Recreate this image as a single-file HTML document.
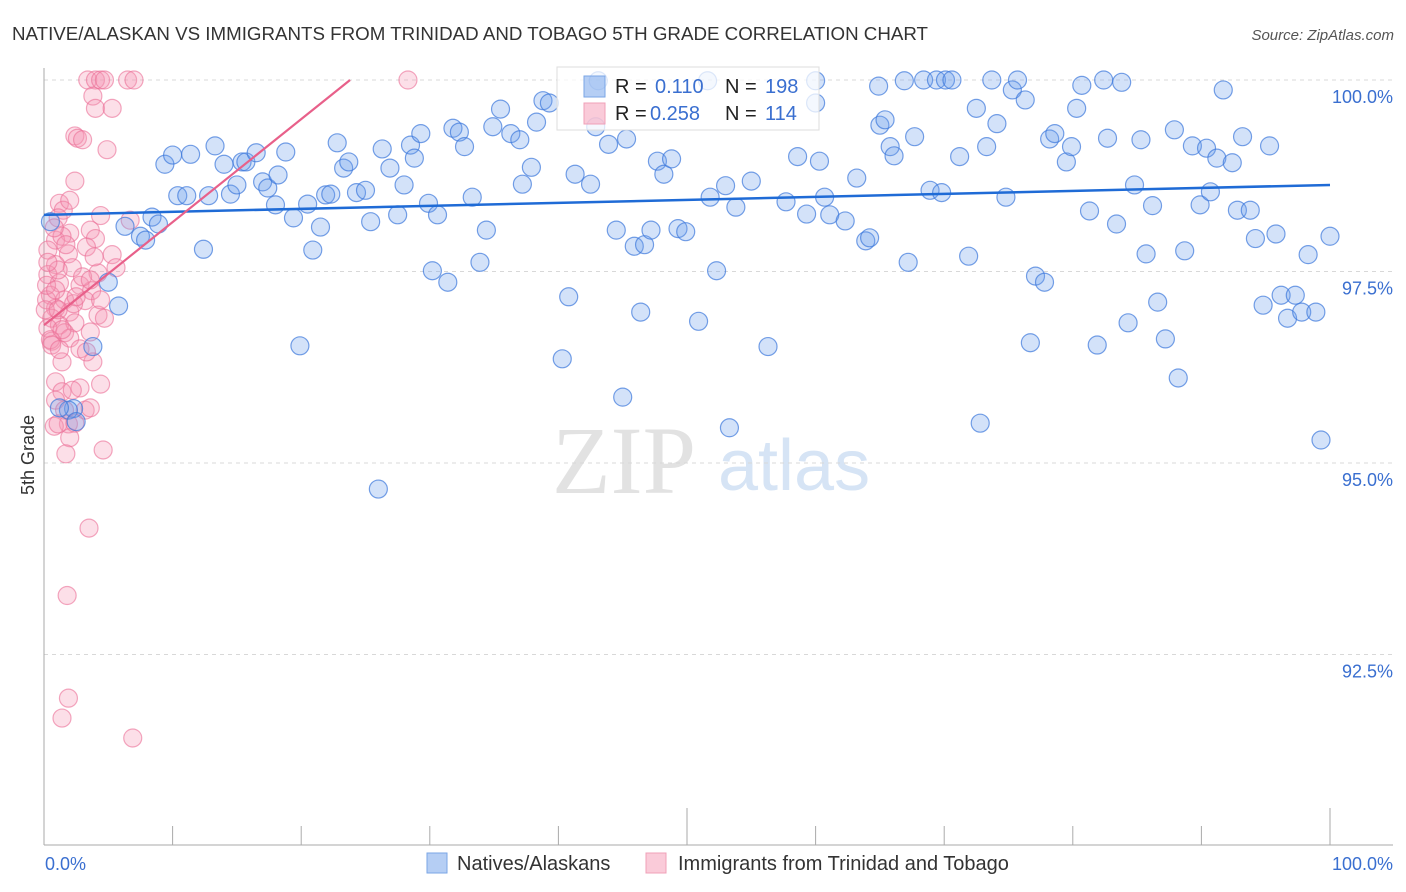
<!DOCTYPE html>
<html><head><meta charset="utf-8">
<style>
body{margin:0;background:#fff;font-family:"Liberation Sans",sans-serif;}
svg{display:block}
</style></head>
<body>
<svg id="chart" width="1406" height="892" viewBox="0 0 1406 892">
<text x="12" y="40" font-size="18" fill="#333" textLength="916" lengthAdjust="spacingAndGlyphs">NATIVE/ALASKAN VS IMMIGRANTS FROM TRINIDAD AND TOBAGO 5TH GRADE CORRELATION CHART</text>
<text x="1394" y="40" font-size="15" fill="#555" font-style="italic" text-anchor="end">Source: ZipAtlas.com</text>
<g>
<text x="552" y="493" font-size="96" font-family="Liberation Serif,serif" fill="#e2e2e2">ZIP</text>
<text x="718" y="490" font-size="72" fill="#d6e4f5">atlas</text>
</g>
<g id="grid"></g>
<g id="axes"></g>
<g id="pinkPts"></g>
<g id="bluePts"></g>
<g id="trends"></g>
<g>
<rect x="557" y="67" width="262" height="63" fill="rgba(255,255,255,0.75)" stroke="#ddd"/>
<rect x="584" y="76" width="21" height="21" fill="rgba(120,165,235,0.55)" stroke="#7aa6e6"/>
<rect x="584" y="103" width="21" height="21" fill="rgba(245,160,185,0.55)" stroke="#f0a0b8"/>
<text x="615" y="93" font-size="20" fill="#222">R =</text>
<text x="655" y="93" font-size="20" fill="#3a6fd0">0.110</text>
<text x="725" y="93" font-size="20" fill="#222">N =</text>
<text x="765" y="93" font-size="20" fill="#3a6fd0">198</text>
<text x="615" y="120" font-size="20" fill="#222">R =</text>
<text x="650" y="120" font-size="20" fill="#3a6fd0">0.258</text>
<text x="725" y="120" font-size="20" fill="#222">N =</text>
<text x="765" y="120" font-size="20" fill="#3a6fd0">114</text>
</g>
<g>
<rect x="427" y="853" width="20" height="20" fill="rgba(120,165,235,0.55)" stroke="#7aa6e6"/>
<text x="457" y="870" font-size="20" fill="#333">Natives/Alaskans</text>
<rect x="646" y="853" width="20" height="20" fill="rgba(245,160,185,0.55)" stroke="#f0a0b8"/>
<text x="678" y="870" font-size="20" fill="#333">Immigrants from Trinidad and Tobago</text>
</g>
<text transform="translate(34,455) rotate(-90)" font-size="18" fill="#333" text-anchor="middle">5th Grade</text>
</svg>
<script>
const yTicks=[100,97.5,95,92.5];
const yTickLabels=["100.0%","97.5%","95.0%","92.5%"];
const xTickLabels=["0.0%","100.0%"];
const blueX=[0.5,3.8,5.0,5.8,6.3,7.5,7.9,8.4,8.9,9.4,10.0,10.4,11.1,11.4,12.4,12.8,13.3,14.0,14.5,15.0,15.4,15.7,16.5,17.0,17.4,18.0,18.2,18.8,19.4,19.9,20.5,20.9,21.5,21.9,22.3,22.8,23.3,23.7,24.3,25.0,25.4,26.0,26.3,26.9,27.5,28.0,28.5,28.8,29.3,29.9,30.2,30.6,31.4,31.8,32.3,32.7,33.3,33.9,34.4,34.9,35.5,36.3,37.0,37.2,37.9,38.3,38.8,39.3,40.3,40.8,41.3,42.5,43.1,43.9,44.5,45.0,45.3,45.9,46.4,46.7,47.2,47.7,48.2,48.8,49.3,49.9,50.9,51.6,51.8,52.3,53.0,53.3,53.8,55.0,56.3,57.7,58.6,59.3,60.0,60.3,60.7,61.1,62.3,63.2,63.9,64.2,64.9,65.0,65.4,65.8,66.1,66.9,67.2,67.7,68.4,68.9,69.4,69.8,70.1,70.6,71.2,71.9,72.5,72.8,73.3,73.7,74.1,74.8,75.3,75.7,76.3,76.7,77.1,77.8,78.2,78.6,79.5,79.9,80.3,80.7,81.3,81.9,82.4,82.7,83.4,83.8,84.3,84.8,85.3,85.7,86.2,86.6,87.2,87.9,88.2,88.7,89.3,89.9,90.4,90.7,91.2,91.7,92.4,92.8,93.2,93.8,94.2,94.8,95.3,95.8,96.2,96.7,97.3,97.8,98.3,98.9,99.3,100.0,42.9,60.0,2.3,1.9,1.2,2.5];
const blueY=[98.15,96.52,97.36,97.05,98.09,97.96,97.91,98.21,98.12,98.90,99.02,98.49,98.49,99.03,97.79,98.49,99.14,98.90,98.51,98.63,98.93,98.93,99.05,98.67,98.59,98.37,98.76,99.06,98.20,96.53,98.38,97.78,98.08,98.50,98.51,99.18,98.85,98.93,98.53,98.56,98.15,94.66,99.10,98.85,98.24,98.63,99.15,98.98,99.30,98.39,97.51,98.24,97.36,99.37,99.32,99.13,98.47,97.62,98.04,99.39,99.62,99.30,99.22,98.64,98.86,99.45,99.73,99.70,96.36,97.17,98.77,98.64,99.99,99.16,98.04,95.86,99.23,97.83,96.97,97.85,98.04,98.94,98.77,98.97,98.06,98.02,96.85,99.99,98.47,97.51,98.62,95.46,98.34,98.68,96.52,98.41,99.00,98.25,99.99,98.94,98.47,98.24,98.16,98.72,97.90,97.94,99.92,99.41,99.48,99.13,99.01,99.99,97.62,99.26,100,98.56,100,98.53,100,100,99.00,97.70,99.63,95.52,99.13,100,99.43,98.47,99.87,100,99.74,96.57,97.44,97.36,99.23,99.30,98.93,99.13,99.63,99.93,98.29,96.54,100,99.24,98.12,99.97,96.83,98.63,99.22,97.73,98.36,97.10,96.62,99.35,96.11,97.77,99.14,98.37,99.11,98.54,98.98,99.87,98.92,98.30,99.26,98.30,97.93,97.06,99.14,97.99,97.19,96.89,97.19,96.97,97.72,96.97,95.30,97.96,99.39,99.70,95.71,95.69,95.72,95.54];
const pinkX=[3.4,4.0,4.4,4.7,6.5,7.0,28.3,3.8,4.0,5.3,2.4,2.6,3.0,4.9,2.4,1.2,1.5,1.1,4.4,3.6,2.0,0.9,1.4,4.0,3.3,0.3,1.9,5.3,0.9,2.2,4.2,5.6,0.3,1.2,2.8,3.7,0.5,1.6,3.2,0.9,2.0,4.2,0.6,1.2,2.4,4.7,0.3,1.6,3.6,0.6,2.0,2.8,1.4,3.8,0.9,2.8,4.4,1.4,2.2,0.9,1.6,3.2,3.6,1.9,0.8,1.1,2.4,2.0,1.7,4.6,3.5,1.8,1.9,1.4,6.9,6.7,0.2,0.2,0.5,0.1,0.9,1.1,0.3,0.6,1.2,2.3,3.0,3.3,1.7,2.5,1.4,4.4,3.6,0.8,3.9,2.0,1.1];
const pinkY=[100,100,100,100,100,100,100,99.79,99.63,99.63,99.27,99.24,99.22,99.09,98.68,98.39,98.30,98.20,98.23,98.04,98.00,97.91,97.96,97.93,97.82,97.78,97.73,97.72,97.59,97.55,97.48,97.55,97.46,97.35,97.32,97.25,97.19,97.13,97.12,97.02,96.97,96.93,96.89,96.80,96.83,96.89,96.76,96.70,96.71,96.59,96.63,96.49,96.32,96.32,96.06,95.98,96.03,95.93,95.95,95.82,95.69,95.69,95.72,95.51,95.48,95.51,95.52,95.33,95.12,95.17,94.15,93.27,91.93,91.67,91.41,98.17,97.13,97.32,96.61,97.0,97.26,97.52,97.62,96.54,96.48,97.08,97.43,96.45,97.85,97.17,96.74,97.13,97.39,98.07,97.69,98.43,97.0];
const blueTrendX=[0,100], blueTrendY=[98.24,98.63];
const pinkTrendX=[0,23.8], pinkTrendY=[96.8,100];

const NS="http://www.w3.org/2000/svg";
const X0=44,X1=1330,Y100=80,PX_PER=191.5/2.5;
const sx=v=>X0+(X1-X0)*v/100;
const sy=v=>Y100+(100-v)*PX_PER;
function mk(tag,attrs,parent){const e=document.createElementNS(NS,tag);for(const k in attrs)e.setAttribute(k,attrs[k]);parent.appendChild(e);return e;}
const grid=document.getElementById('grid'),axes=document.getElementById('axes');
yTicks.forEach((t,i)=>{
  const l=mk('line',{x1:X0,x2:1393,y1:sy(t),y2:sy(t),stroke:'#d8d8d8','stroke-dasharray':'4,4'},grid);
  
  
  const tx=mk('text',{x:1393,y:sy(t)+23,'font-size':18,fill:'#3a6fd0','text-anchor':'end'},axes);
  tx.textContent=yTickLabels[i];
  
  
});
mk('line',{x1:X0,x2:X0,y1:68,y2:845,stroke:'#aaa'},axes);
mk('line',{x1:X0,x2:1393,y1:845,y2:845,stroke:'#aaa'},axes);
for(let i=0;i<=10;i++){
  const tk=mk('line',{x1:sx(i*10),x2:sx(i*10),y1:(i==5||i==10)?808:826,y2:845,stroke:'#aaa'},axes);
  
  
}
const xl0=mk('text',{x:45,y:870,'font-size':18,fill:'#3a6fd0'},axes);xl0.textContent=xTickLabels[0];


const xl1=mk('text',{x:1393,y:870,'font-size':18,fill:'#3a6fd0','text-anchor':'end'},axes);xl1.textContent=xTickLabels[1];


function pts(xs,ys,g,fill,stroke,name){
  xs.forEach((x,i)=>{
    const c=mk('circle',{cx:sx(x),cy:sy(ys[i]),r:9,fill:fill,stroke:stroke,'stroke-width':1.2},g);
    
    
  });
}
pts(pinkX,pinkY,document.getElementById('pinkPts'),'rgba(245,150,180,0.3)','rgba(235,110,150,0.6)','immigrants-point');
pts(blueX,blueY,document.getElementById('bluePts'),'rgba(110,160,235,0.3)','rgba(60,120,220,0.7)','natives-point');
const tr=document.getElementById('trends');
const bl=mk('line',{x1:sx(blueTrendX[0]),y1:sy(blueTrendY[0]),x2:sx(blueTrendX[1]),y2:sy(blueTrendY[1]),stroke:'#1f6bd6','stroke-width':2.5},tr);


const pl=mk('line',{x1:sx(pinkTrendX[0]),y1:sy(pinkTrendY[0]),x2:sx(pinkTrendX[1]),y2:sy(pinkTrendY[1]),stroke:'#e8608a','stroke-width':2.2},tr);


</script>
</body></html>
